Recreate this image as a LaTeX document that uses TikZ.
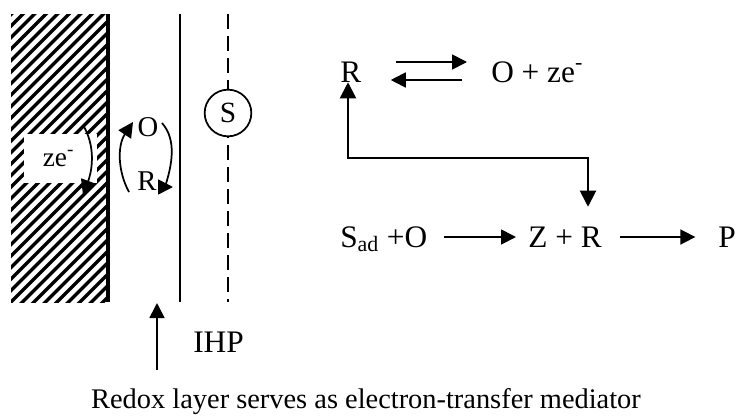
\documentclass[tikz,border=0pt]{standalone}
\usepackage{fontspec}
\setmainfont{Liberation Serif}
\usepackage{tikz}
\usetikzlibrary{arrows.meta,calc}
\tikzset{
  txt/.style={anchor=west, inner sep=0pt, text height=15pt, text depth=0pt, font=\fontsize{23.5}{26}\selectfont},
  chem/.style={inner sep=0pt, font=\fontsize{21.5}{24}\selectfont},
  arr/.style={-{Triangle[length=11.25pt,width=11.25pt]}, line width=1.3pt, draw=black},
  arrbig/.style={{Triangle[length=12pt,width=12pt]}-{Triangle[length=12pt,width=12pt]}, line width=1.5pt, draw=black},
  curv/.style={-{Triangle[length=11.25pt,width=11.25pt]}, line width=1.3pt, draw=black},
  dashline/.style={line width=1.5pt, dash pattern=on 11.25pt off 5.25pt},
}
\begin{document}
\begin{tikzpicture}[x=0.75pt,y=-0.75pt]
  \useasboundingbox (0,0) rectangle (737,418);
  % electrode
  \begin{scope}
    \clip (11,14) rectangle (108,302);
    \foreach \k in {0,1,...,48}
      {\draw[line width=2.6pt] (0,{14+\k*11.5}) -- (120,{14+\k*11.5-120});}
  \end{scope}
  \draw[line width=3pt] (108,14) -- (108,302);
  \node[chem, fill=white, minimum width=54.75pt, minimum height=36.75pt, font=\fontsize{20.5}{22}\selectfont] (ze) at (60.5,158.5) {\raisebox{-3pt}{ze\textsuperscript{-}}\hspace*{3pt}};
  % layers
  \coordinate (ihptop) at (180,14);
  \coordinate (ihpbot) at (180,302);
  \draw[line width=1.5pt] (ihptop) -- (ihpbot);
  \node[circle, draw, line width=1.3pt, minimum size=35pt, inner sep=0pt, font=\fontsize{22}{24}\selectfont] (S) at (228,113) {S};
  \coordinate (olhptop) at (228,14);
  \coordinate (olhpbot) at (228,302);
  \draw[dashline] (olhptop) -- (S.north);
  \draw[dashline, dash phase=10.5pt] (S.south) -- (olhpbot);
  % couple in the layer
  \node[chem] (Ol) at (148,127) {O};
  \node[chem] (Rl) at (147,181) {R};
  \coordinate (a1) at (129,192);
  \coordinate (a2) at (133,122);
  \coordinate (b1) at (162,123);
  \coordinate (b2) at (173,187);
  \coordinate (c1) at (83,125);
  \coordinate (c2) at (83,195);
  \draw[curv] (a1) .. controls (118,172) and (117,146) .. (a2);
  \draw[curv] (b1) .. controls (177,140) and (172,165) .. (165,187) -- (b2);
  \draw[curv] (c1) .. controls (95,145) and (93,168) .. (c2);
  % pointer to the layer
  \coordinate (ptr) at (157,370);
  \coordinate (ptrtip) at (157,303);
  \draw[arr] (ptr) -- (ptrtip);
  \node[txt] (ihp) at (193,342) {IHP};
  % reactions
  \node[txt] (R) at (340,72) {R};
  \node[txt] (Oze) at (491,72) {O + ze\textsuperscript{-}};
  \node[txt] (Sad) at (340,237) {S\textsubscript{ad} +O};
  \node[txt] (ZR) at (528,237) {Z + R};
  \node[txt] (P) at (718,237) {P};
  \draw[arr] ([xshift=26pt,yshift=7.5pt]R.east) -- ([xshift=-18pt,yshift=7.5pt]Oze.west);
  \draw[arr] ([xshift=-21.75pt,yshift=-6pt]Oze.west) -- ([xshift=22pt,yshift=-6pt]R.east);
  \draw[arr] (Sad.east) ++(12.5pt,0) -- ([xshift=-9pt]ZR.west);
  \draw[arr] (ZR.east) ++(13.5pt,0) -- ([xshift=-17pt]P.west);
  \coordinate (corl) at (348,158);
  \coordinate (corr) at (588,158);
  \draw[arrbig] (R.south -| corl) -- (corl) -- (corr) -- ([yshift=15pt]ZR.north -| corr);
  % caption
  \node[chem, anchor=base, font=\fontsize{21.3}{24}\selectfont] (cap) at (366,408) {Redox layer serves as electron-transfer mediator};
\end{tikzpicture}
\end{document}
